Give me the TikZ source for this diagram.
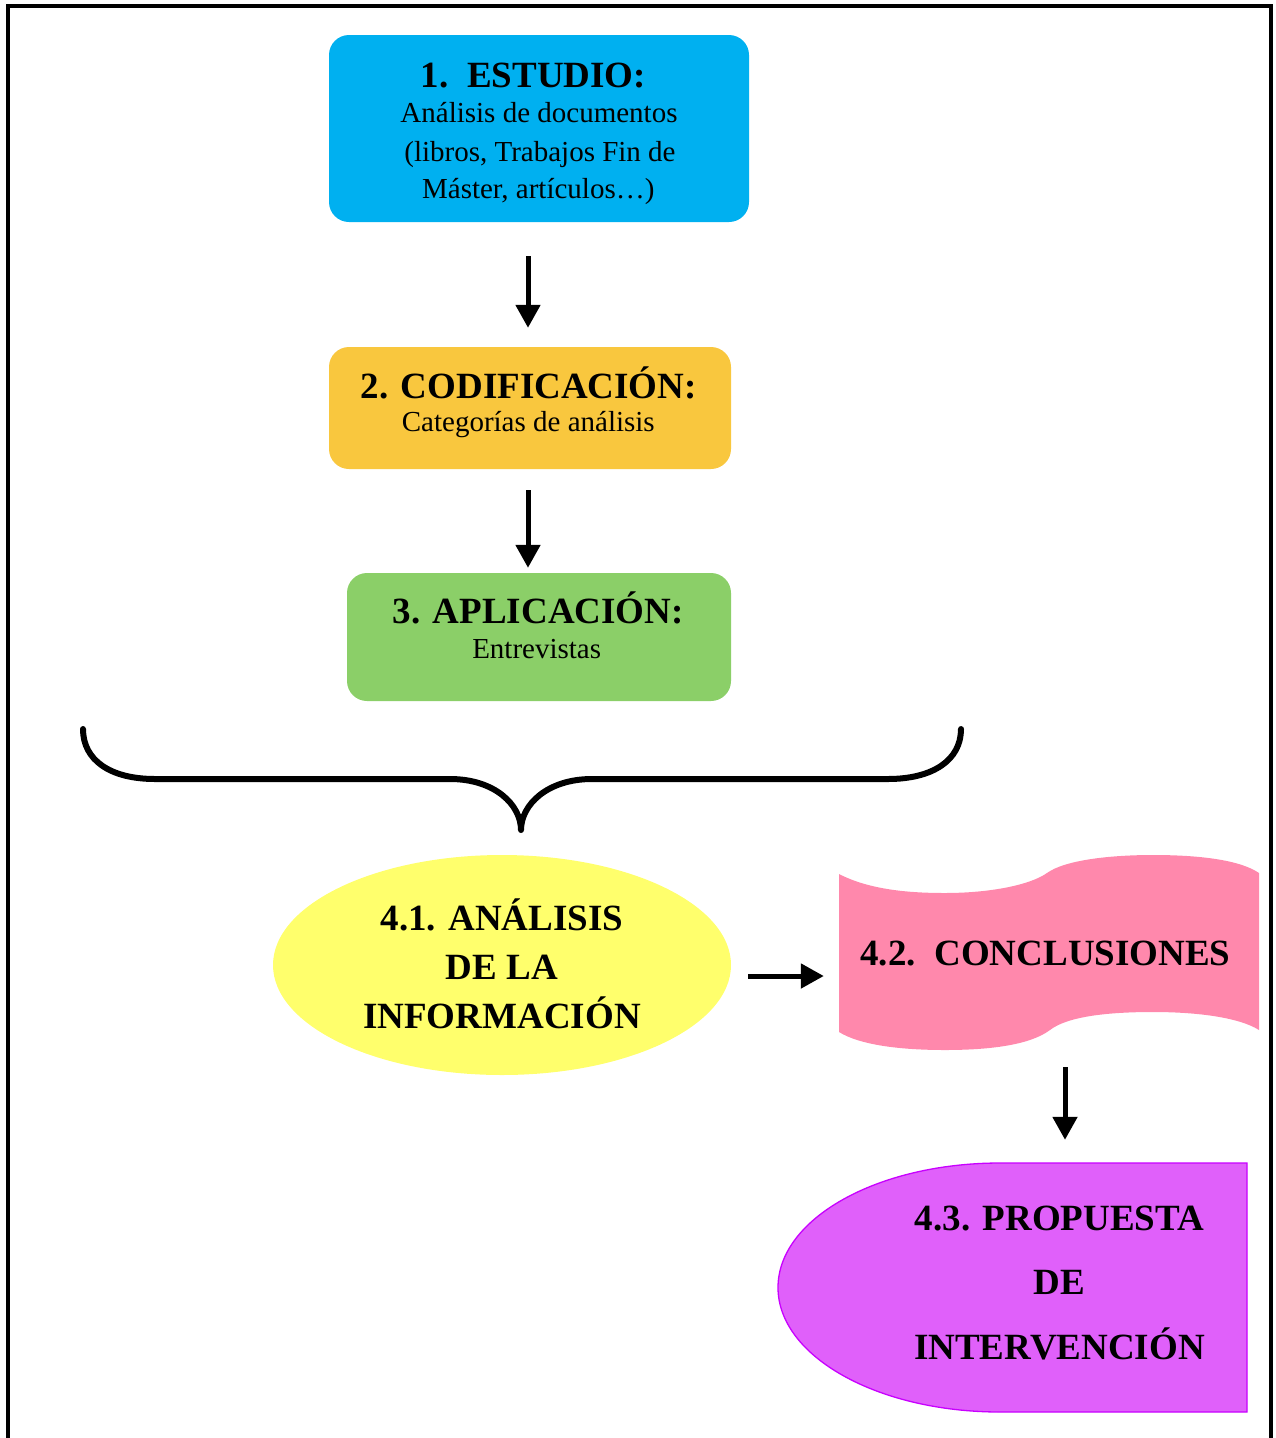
\documentclass[tikz,border=0pt]{standalone}
\usepackage{fontspec}
\setmainfont{Liberation Serif}
\usetikzlibrary{arrows.meta,shapes.geometric}
\definecolor{cBlue}{RGB}{0,176,240}
\definecolor{cOrange}{RGB}{249,199,62}
\definecolor{cGreen}{RGB}{139,207,104}
\definecolor{cYel}{RGB}{255,255,108}
\definecolor{cPink}{RGB}{255,136,172}
\definecolor{cMag}{RGB}{224,96,250}
\definecolor{cMagD}{RGB}{200,0,255}
\begin{document}
\begin{tikzpicture}[x=1pt,y=-1pt,
  arr/.style={line width=5pt,-{Triangle[width=24pt,length=23pt]}},
  ttl/.style={anchor=base,inner sep=0pt,font=\bfseries\fontsize{37}{37}\selectfont},
  bdy/.style={anchor=base,inner sep=0pt,font=\fontsize{29}{29}\selectfont},
  box/.style={rounded corners=20pt,inner sep=0pt},
  holder/.style={inner sep=0pt}]
\useasboundingbox (0,0) rectangle (1275,1438);
% frame
\draw[line width=4pt] (8,1450) -- (8,5.5) -- (1271,5.5) -- (1271,1450);

% boxes
\node[box,fill=cBlue,minimum width=420pt,minimum height=187pt] (s1) at (539,128.5) {};
\node[box,fill=cOrange,minimum width=402pt,minimum height=122pt] (s2) at (530,408) {};
\node[box,fill=cGreen,minimum width=384pt,minimum height=128pt] (s3) at (539,637) {};

\node[ttl] (s1t) at (533.4,87.3) {1.\ \ ESTUDIO:};
\node[bdy] (s1a) at (539,122.7) {Análisis de documentos};
\node[bdy] (s1b) at (540,161) {(libros, Trabajos Fin de};
\node[bdy] (s1c) at (538.3,198.3) {Máster, artículos…)};

\node[ttl] (s2t) at (528.8,398.3) {2. CODIFICACIÓN:};
\node[bdy] (s2a) at (528.3,431.7) {Categorías de análisis};

\node[ttl] (s3t) at (538.3,623.3) {3. APLICACIÓN:};
\node[bdy] (s3a) at (536.7,658.3) {Entrevistas};

% brace
\draw[line width=6pt,line cap=round,line join=round]
  (83,729) .. controls (83,760) and (110,779) .. (155,779) -- (450,779)
  .. controls (495,779) and (521,805) .. (521,830)
  .. controls (521,805) and (547,779) .. (592,779) -- (888,779)
  .. controls (933,779) and (961,760) .. (961,729);

% ellipse
\node[ellipse,fill=cYel,minimum width=458pt,minimum height=220pt,inner sep=0pt] (ell) at (502,965) {};
\node[ttl] (e1) at (502,930) {4.1. ANÁLISIS};
\node[ttl] (e2) at (502,979) {DE LA};
\node[ttl] (e3) at (502,1028) {INFORMACIÓN};

% banner
\fill[cPink] (839,874) .. controls (870,890) and (910,893) .. (945,893)
  .. controls (990,893) and (1030,885) .. (1047,873)
  .. controls (1065,860) and (1110,855) .. (1153,855)
  .. controls (1200,855) and (1240,860) .. (1259,873)
  -- (1259,1030)
  .. controls (1240,1018) and (1200,1012) .. (1153,1012)
  .. controls (1110,1012) and (1068,1016) .. (1050,1030)
  .. controls (1030,1045) and (990,1050) .. (945,1050)
  .. controls (900,1050) and (860,1045) .. (839,1032) -- cycle;
\node[holder,minimum width=420pt,minimum height=195pt] (concl) at (1049,952.5) {};
\node[ttl] (ct) at (1045.5,965) {4.2.\ \ CONCLUSIONES};

% delay shape
\draw[cMagD,fill=cMag,line width=1.3pt] (1000,1163) -- (1247,1163) -- (1247,1412) -- (1000,1412)
  arc[start angle=270,end angle=90,x radius=222pt,y radius=124.5pt] -- cycle;
\node[holder,minimum width=469pt,minimum height=249pt] (prop) at (1012.5,1287.5) {};
\node[ttl] (p1) at (1059.5,1230) {4.3. PROPUESTA};
\node[ttl] (p2) at (1059.5,1294) {DE};
\node[ttl] (p3) at (1059.5,1359) {INTERVENCIÓN};

% arrows
\draw[arr] ([xshift=-11pt,yshift=-34pt]s1.south) -- ([xshift=-2pt,yshift=19pt]s2.north);
\draw[arr] ([xshift=-2pt,yshift=-21pt]s2.south) -- ([xshift=-11pt,yshift=5pt]s3.north);
\draw[arr] ([xshift=17pt,yshift=-11pt]ell.east) -- ([xshift=-15pt,yshift=-23.5pt]concl.west);
\draw[arr] ([xshift=16pt,yshift=-17pt]concl.south) -- ([xshift=52.5pt,yshift=23pt]prop.north);
\end{tikzpicture}
\end{document}
